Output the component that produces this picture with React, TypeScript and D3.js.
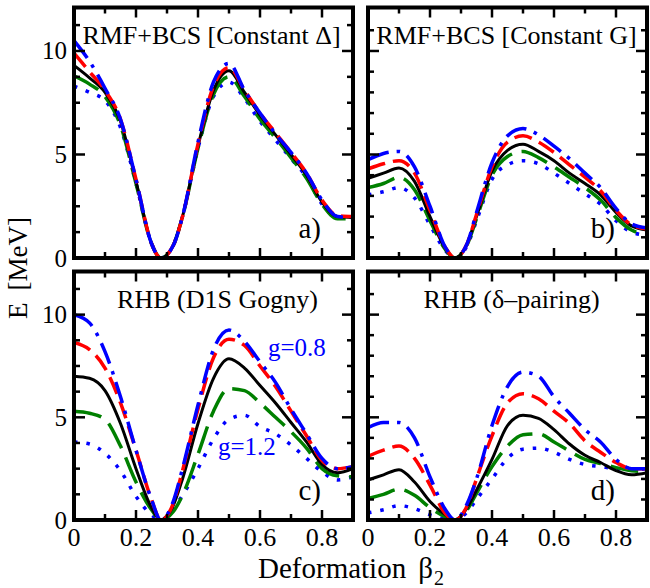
import React from 'react';
import * as d3 from 'd3';

// Deformation grid (beta_2)
const BETA = [0, 0.05, 0.1, 0.15, 0.2, 0.25, 0.28, 0.32, 0.35, 0.4, 0.45, 0.5, 0.55, 0.6, 0.65, 0.7, 0.75, 0.8, 0.85, 0.9];

// Panel a) RMF+BCS [Constant Delta]
const A_G08 = [10.5, 9.5, 8.2, 6.7, 3.8, 0.7, 0, 0.6, 2.0, 5.6, 8.5, 9.4, 8.1, 7.0, 6.0, 5.1, 4.1, 2.8, 2.0, 1.95];
const A_G09 = [9.9, 9.0, 8.1, 6.7, 3.8, 0.7, 0, 0.6, 2.0, 5.5, 8.3, 9.2, 8.1, 7.0, 6.05, 5.1, 4.1, 2.8, 2.05, 2.0];
const A_G10 = [9.3, 8.7, 8.0, 6.6, 3.7, 0.7, 0, 0.6, 2.0, 5.4, 8.1, 9.05, 8.0, 6.9, 5.95, 5.0, 4.0, 2.7, 2.0, 1.95];
const A_G11 = [8.8, 8.4, 7.8, 6.4, 3.6, 0.7, 0, 0.6, 2.0, 5.3, 7.9, 8.75, 7.8, 6.7, 5.8, 4.85, 3.85, 2.6, 1.9, 1.9];
const A_G12 = [8.3, 8.0, 7.6, 6.3, 3.6, 0.7, 0, 0.6, 2.0, 5.3, 7.8, 8.5, 7.7, 6.6, 5.7, 4.8, 3.9, 2.6, 1.95, 1.95];

// Panel b) RMF+BCS [Constant G]
const B_G08 = [4.75, 5.05, 5.15, 4.4, 2.5, 0.5, 0, 0.7, 2.2, 4.6, 5.9, 6.25, 5.95, 5.4, 4.8, 4.1, 3.4, 2.4, 1.65, 1.45];
const B_G09 = [4.3, 4.55, 4.7, 4.1, 2.3, 0.5, 0, 0.7, 2.1, 4.4, 5.6, 5.9, 5.6, 5.1, 4.5, 3.9, 3.25, 2.3, 1.6, 1.4];
const B_G10 = [3.85, 4.1, 4.35, 3.7, 2.0, 0.45, 0, 0.7, 2.0, 4.2, 5.2, 5.5, 5.15, 4.7, 4.1, 3.6, 3.05, 2.2, 1.55, 1.35];
const B_G11 = [3.4, 3.6, 3.9, 3.3, 1.8, 0.4, 0, 0.65, 1.9, 4.0, 4.9, 5.15, 4.85, 4.4, 3.9, 3.4, 2.8, 1.95, 1.35, 1.15];
const B_G12 = [3.05, 3.2, 3.4, 2.9, 1.6, 0.35, 0, 0.6, 1.8, 3.8, 4.5, 4.7, 4.55, 4.1, 3.6, 3.1, 2.6, 1.8, 1.25, 1.1];

// Panel c) RHB (D1S Gogny)
const C_G08 = [10.0, 9.6, 8.2, 6.0, 3.4, 1.0, 0, 0.9, 2.5, 5.6, 8.3, 9.25, 8.7, 7.7, 6.7, 5.4, 4.2, 3.0, 2.5, 2.6];
const C_G09 = [8.65, 8.3, 7.4, 5.7, 3.4, 1.0, 0, 0.8, 2.4, 5.4, 7.9, 8.8, 8.5, 7.5, 6.5, 5.3, 4.1, 2.9, 2.5, 2.6];
const C_G10 = [7.0, 6.9, 6.3, 4.7, 2.5, 0.6, 0, 0.7, 2.0, 4.7, 6.9, 7.85, 7.4, 6.55, 5.7, 4.75, 3.8, 2.7, 2.3, 2.5];
const C_G11 = [5.3, 5.2, 4.9, 3.6, 1.85, 0.5, 0, 0.4, 1.2, 3.2, 5.3, 6.4, 6.3, 5.7, 5.0, 4.3, 3.5, 2.5, 2.15, 2.1];
const C_G12 = [3.8, 3.7, 3.25, 2.4, 1.15, 0.25, 0, 0.55, 1.2, 2.5, 3.95, 4.9, 5.1, 4.55, 4.2, 3.65, 3.0, 2.35, 1.95, 2.1];

// Panel d) RHB (delta-pairing)
const D_G08 = [4.5, 4.75, 4.75, 4.0, 2.1, 0.5, 0, 0.8, 2.0, 4.6, 6.5, 7.2, 7.0, 6.0, 5.2, 4.4, 3.8, 2.95, 2.5, 2.5];
const D_G09 = [3.1, 3.4, 3.6, 3.0, 1.7, 0.3, 0, 0.7, 2.0, 4.1, 5.7, 6.15, 5.9, 5.3, 4.7, 3.85, 3.3, 2.8, 2.5, 2.5];
const D_G10 = [1.95, 2.2, 2.45, 1.85, 0.9, 0.25, 0, 0.6, 1.45, 2.95, 4.6, 5.1, 4.95, 4.4, 3.7, 3.15, 2.8, 2.4, 2.2, 2.3];
const D_G11 = [1.05, 1.25, 1.5, 1.2, 0.6, 0.15, 0, 0.5, 1.3, 2.6, 3.6, 4.15, 4.2, 3.8, 3.35, 2.95, 2.75, 2.55, 2.4, 2.35];
const D_G12 = [0.35, 0.5, 0.7, 0.55, 0.25, 0.05, 0, 0.4, 1.0, 2.0, 3.0, 3.45, 3.5, 3.3, 2.95, 2.7, 2.6, 2.5, 2.45, 2.5];

const X_TICK_LABELS = ['0', '0.2', '0.4', '0.6', '0.8'];
const X_TICK_VALUES = [0, 0.2, 0.4, 0.6, 0.8];
const Y_TICK_VALUES = [0, 5, 10];
const Y_TICK_LABELS = ['0', '5', '10'];

const STYLES = [
  { color: '#0000ff', dash: '22,8,3.5,8', width: 3.5 }, // g=0.8
  { color: '#ff0000', dash: '18,8', width: 3.5 },
  { color: '#000000', dash: undefined, width: 3 },
  { color: '#008000', dash: '28,10', width: 3.5 },
  { color: '#0000ff', dash: '3.5,9', width: 3.5 }, // g=1.2
];

const FONT = "'Liberation Serif', 'Times New Roman', Times, serif";

type PanelCfg = {
  id: string;
  series: number[][];
  x0: number; x1: number; y0: number; y1: number;
  title: string; titleDx: number;
  tag: string;
  yLabels: boolean; xLabels: boolean; yMinor: number;
};

const PANELS: PanelCfg[] = [
  { id: 'a', series: [A_G08, A_G09, A_G10, A_G11, A_G12], x0: 74, x1: 353, y0: 7.5, y1: 258, title: 'RMF+BCS [Constant \u0394]', titleDx: -2, tag: 'a)', yLabels: true, xLabels: false, yMinor: 1.25 },
  { id: 'b', series: [B_G08, B_G09, B_G10, B_G11, B_G12], x0: 368, x1: 647, y0: 7.5, y1: 258, title: 'RMF+BCS [Constant G]', titleDx: -1, tag: 'b)', yLabels: false, xLabels: false, yMinor: 1 },
  { id: 'c', series: [C_G08, C_G09, C_G10, C_G11, C_G12], x0: 74, x1: 353, y0: 271.5, y1: 520, title: 'RHB (D1S Gogny)', titleDx: 4, tag: 'c)', yLabels: true, xLabels: true, yMinor: 1.25 },
  { id: 'd', series: [D_G08, D_G09, D_G10, D_G11, D_G12], x0: 368, x1: 647, y0: 271.5, y1: 520, title: 'RHB (\u03b4\u2013pairing)', titleDx: 4, tag: 'd)', yLabels: false, xLabels: true, yMinor: 1 },
];

const Y_MAX = 12.1;

function Panel({ p }: { p: PanelCfg }) {
  const x = d3.scaleLinear().domain([0, 0.9]).range([p.x0, p.x1]);
  const y = d3.scaleLinear().domain([0, Y_MAX]).range([p.y1, p.y0]);
  const line = d3.line<number>().x((_, i) => x(BETA[i])).y((d) => y(d)).curve(d3.curveMonotoneX);
  const xt = d3.range(10).map((i) => i / 10);
  const yt: number[] = [];
  for (let v = 0; v < Y_MAX - 0.3; v += p.yMinor) yt.push(Math.round(v * 100) / 100);
  const isMajorY = (v: number) => Math.abs(v % 5) < 1e-6;
  const isMajorX = (i: number) => i % 2 === 0;
  const order = [4, 3, 2, 1, 0];
  return (
    <g>
      <defs>
        <clipPath id={`clip-${p.id}`}>
          <rect x={p.x0} y={p.y0} width={p.x1 - p.x0} height={p.y1 - p.y0} />
        </clipPath>
      </defs>
      <g clipPath={`url(#clip-${p.id})`}>
        {order.map((k) => (
          <path key={k} d={line(p.series[k]) || ''} fill="none" stroke={STYLES[k].color}
            strokeWidth={STYLES[k].width} strokeDasharray={STYLES[k].dash} strokeLinejoin="round" />
        ))}
      </g>
      {xt.map((v, i) => {
        const L = isMajorX(i) ? 10 : 6;
        return (
          <g key={'xt' + i} stroke="#000" strokeWidth={2.5}>
            <line x1={x(v)} x2={x(v)} y1={p.y1} y2={p.y1 - L} />
            <line x1={x(v)} x2={x(v)} y1={p.y0} y2={p.y0 + L} />
          </g>
        );
      })}
      {yt.map((v, i) => {
        const L = isMajorY(v) ? 11 : 6;
        return (
          <g key={'yt' + i} stroke="#000" strokeWidth={2.5}>
            <line x1={p.x0} x2={p.x0 + L} y1={y(v)} y2={y(v)} />
            <line x1={p.x1} x2={p.x1 - L} y1={y(v)} y2={y(v)} />
          </g>
        );
      })}
      <rect x={p.x0} y={p.y0} width={p.x1 - p.x0} height={p.y1 - p.y0} fill="none" stroke="#000" strokeWidth={4} />
      {p.yLabels && Y_TICK_VALUES.map((v, i) => (
        <text key={'yl' + i} x={p.x0 - 7} y={y(v)} textAnchor="end" dominantBaseline="central"
          fontFamily={FONT} fontSize={25} fill="#000">{Y_TICK_LABELS[i]}</text>
      ))}
      {p.xLabels && X_TICK_VALUES.map((v, i) => (
        <text key={'xl' + i} x={x(v)} y={p.y1 + 26} textAnchor="middle"
          fontFamily={FONT} fontSize={26} fill="#000">{X_TICK_LABELS[i]}</text>
      ))}
      <text x={(p.x0 + p.x1) / 2 + p.titleDx} y={p.y0 + 36} textAnchor="middle" fontFamily={FONT} fontSize={26} fill="#000">{p.title}</text>
      <text x={p.x1 - 32} y={p.y1 - 20} textAnchor="end" fontFamily={FONT} fontSize={29} fill="#000">{p.tag}</text>
    </g>
  );
}

export default function App() {
  return (
    <svg width={650} height={588} style={{ position: 'absolute', left: 0, top: 0, background: '#fff' }}>
      <rect x={0} y={0} width={650} height={588} fill="#fff" />
      {PANELS.map((p) => <Panel key={p.id} p={p} />)}
      <text x={268} y={356} fontFamily={FONT} fontSize={25} fill="#0000ff">g=0.8</text>
      <text x={218} y={455} fontFamily={FONT} fontSize={25} fill="#0000ff">g=1.2</text>
      <text transform="translate(27,268) rotate(-90)" textAnchor="middle" fontFamily={FONT} fontSize={27} fill="#000">
        E<tspan dx={12}>[MeV]</tspan>
      </text>
      <text x={258} y={578} fontFamily={FONT} fontSize={29} fill="#000">
        Deformation<tspan dx={12}>{'\u03b2'}</tspan><tspan dx={1} dy={7} fontSize={20}>2</tspan>
      </text>
    </svg>
  );
}
